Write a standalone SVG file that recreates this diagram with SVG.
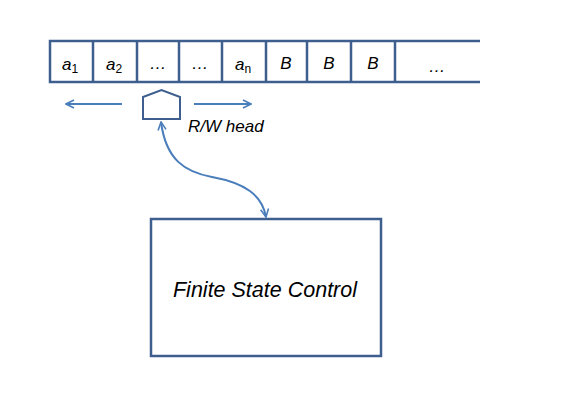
<svg xmlns="http://www.w3.org/2000/svg" width="567" height="417" viewBox="0 0 567 417">
<style>
.tape{fill:none;stroke:#3e5f8e;stroke-width:2.5}
.cell{font-family:"Liberation Sans",Arial,sans-serif;font-size:17px;font-style:italic;fill:#000;text-anchor:middle}
.sub{font-size:12px;font-style:normal}
.conn{fill:none;stroke:#4a7ebb;stroke-width:2}
.lbl{font-family:"Liberation Sans",Arial,sans-serif;font-style:italic;fill:#000}
</style>
<defs>
<marker id="ah" viewBox="0 0 10 10" refX="9" refY="5" markerWidth="10" markerHeight="10" markerUnits="userSpaceOnUse" orient="auto-start-reverse">
<path d="M1,1 L9,5 L1,9" fill="none" stroke="#4a7ebb" stroke-width="1.6"/>
</marker>
</defs>
<rect width="567" height="417" fill="#fff"/>
<g id="tape">
<path class="tape" d="M480,41 H50 V82 H480 M93,41 V82 M137,41 V82 M179,41 V82 M222,41 V82 M266,41 V82 M307,41 V82 M351,41 V82 M395,41 V82"/>
<text class="cell" x="70" y="70">a<tspan class="sub" dy="3">1</tspan></text>
<text class="cell" x="114" y="70">a<tspan class="sub" dy="3">2</tspan></text>
<text class="cell" x="158" y="69">…</text>
<text class="cell" x="200" y="69">…</text>
<text class="cell" x="243" y="70">a<tspan class="sub" dy="3" font-style="italic">n</tspan></text>
<text class="cell" x="286" y="69">B</text>
<text class="cell" x="329" y="69">B</text>
<text class="cell" x="373" y="69">B</text>
<text class="cell" x="437" y="72">…</text>
</g>
<g id="head">
<path d="M143,97 L161.5,90 L180,97 V119 H143 Z" fill="#fff" stroke="#3e5f8e" stroke-width="2"/>
<text class="lbl" x="188" y="132" font-size="17">R/W head</text>
</g>
<g id="fsc">
<rect x="151" y="219" width="230" height="137" fill="#fff" stroke="#3e5f8e" stroke-width="2.5"/>
<text class="lbl" x="265" y="297" font-size="21.5" text-anchor="middle">Finite State Control</text>
</g>
<g id="connectors">
<line class="conn" x1="122" y1="104" x2="66" y2="104" marker-end="url(#ah)"/>
<line class="conn" x1="194" y1="104" x2="251" y2="104" marker-end="url(#ah)"/>
<path class="conn" d="M161,122 C166,160 185,172 212,177 C245,183 262,195 266,217" marker-start="url(#ah)" marker-end="url(#ah)"/>
</g>
</svg>
